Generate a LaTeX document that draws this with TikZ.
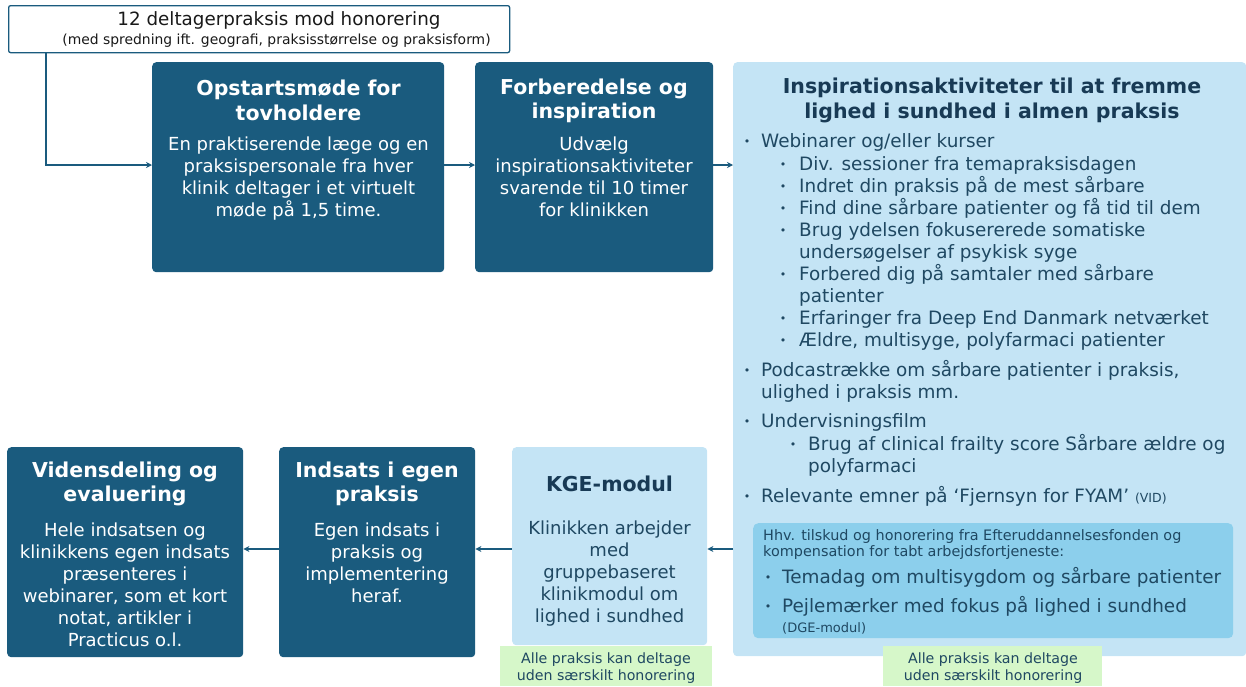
\documentclass[tikz,border=0pt]{standalone}
\usepackage{fontspec}
\setmainfont{DejaVu Sans}
\usetikzlibrary{arrows.meta}
\definecolor{dkblue}{HTML}{1A5B7E}
\definecolor{ltblue}{HTML}{C4E4F5}
\definecolor{midblue}{HTML}{8CCFEC}
\definecolor{ltgreen}{HTML}{D6F7C9}
\definecolor{navy}{HTML}{183A55}
\definecolor{txt}{HTML}{1F4862}
\begin{document}
\begin{tikzpicture}[x=1pt,y=-1pt,
  dk/.style={fill=dkblue, rounded corners=4pt, draw=none, inner sep=0pt, anchor=north west},
  lt/.style={fill=ltblue, rounded corners=4pt, draw=none, inner sep=0pt, anchor=north west},
  mid/.style={fill=midblue, rounded corners=5pt, draw=none, inner sep=0pt, anchor=north west},
  grn/.style={fill=ltgreen, draw=none, inner sep=0pt, anchor=north west},
  ttl/.style={font=\bfseries\fontsize{20.5}{24.5}\selectfont, align=center, inner sep=0pt},
  bd/.style={font=\fontsize{18}{22}\selectfont, align=center, inner sep=0pt},
  li/.style={anchor=west, inner sep=0pt, text height=13.5pt, text depth=4.5pt, font=\fontsize{18.4}{22}\selectfont, text=txt},
  sm/.style={anchor=west, inner sep=0pt, text height=10.5pt, text depth=3.2pt, font=\fontsize{14.4}{16}\selectfont, text=txt},
  bul/.style={inner sep=0pt, font=\fontsize{11}{11}\selectfont, text=txt},
  note/.style={font=\fontsize{14.2}{17}\selectfont, align=center, inner sep=0pt, text=txt},
  arr/.style={draw=dkblue, line width=1.3pt, -{Stealth[length=6pt,width=6pt]}}
]
\useasboundingbox (0,0) rectangle (1246,686);

% top box
\node[draw=dkblue, line width=1.3pt, fill=white, rounded corners=2pt, minimum width=501pt, minimum height=47pt, anchor=north west, inner sep=0pt] (top) at (8,5) {};
\node[inner sep=0pt, font=\fontsize{18.3}{22}\selectfont, text=black!90] (toptxt) at (279,20.5) {12 deltagerpraksis mod honorering};
\node[inner sep=0pt, font=\fontsize{13.9}{16}\selectfont, text=black!90] (topsub) at (276.5,41) {(med spredning ift. geografi, praksisstørrelse og praksisform)};

% upper row
\node[dk, minimum width=292pt, minimum height=210pt] (b1) at (152,62) {};
\node[ttl, text=white] (b1t) at (298.5,100.5) {Opstartsmøde for\\tovholdere};
\node[bd, text=white] (b1b) at (298.5,178.5) {En praktiserende læge og en\\praksispersonale fra hver\\klinik deltager i et virtuelt\\møde på 1,5 time.};

\node[dk, minimum width=238pt, minimum height=210pt] (b2) at (475,62) {};
\node[ttl, text=white] (b2t) at (594,101) {Forberedelse og\\inspiration};
\node[bd, text=white, font=\fontsize{18}{21.7}\selectfont] (b2b) at (594,176.75) {Udvælg\\inspirationsaktiviteter\\svarende til 10 timer\\for klinikken};

% big box
\node[lt, minimum width=513pt, minimum height=594pt] (big) at (733,62) {};
\node[ttl, text=navy] (bigt) at (992,100.5) {Inspirationsaktiviteter til at fremme\\lighed i sundhed i almen praksis};

\node[bul] (u1) at (747,143) {•};
\node[li] (l1) at (761,143) {Webinarer og/eller kurser};
\node[bul] (u2) at (783,166) {•};
\node[li] (l2) at (799,166) {Div. sessioner fra temapraksisdagen};
\node[bul] (u3) at (783,188) {•};
\node[li] (l3) at (799,188) {Indret din praksis på de mest sårbare};
\node[bul] (u4) at (783,210) {•};
\node[li] (l4) at (799,210) {Find dine sårbare patienter og få tid til dem};
\node[bul] (u5) at (783,232) {•};
\node[li] (l5) at (799,232) {Brug ydelsen fokusererede somatiske};
\node[li] (l5b) at (799,253.5) {undersøgelser af psykisk syge};
\node[bul] (u6) at (783,276) {•};
\node[li] (l6) at (799,276) {Forbered dig på samtaler med sårbare};
\node[li] (l6b) at (799,297.5) {patienter};
\node[bul] (u7) at (783,320) {•};
\node[li] (l7) at (799,320) {Erfaringer fra Deep End Danmark netværket};
\node[bul] (u8) at (783,342) {•};
\node[li] (l8) at (799,342) {Ældre, multisyge, polyfarmaci patienter};

\node[bul] (u9) at (747,372) {•};
\node[li] (l9) at (761,372) {Podcastrække om sårbare patienter i praksis,};
\node[li] (l9b) at (761,393.5) {ulighed i praksis mm.};
\node[bul] (u10) at (747,423) {•};
\node[li] (l10) at (761,423) {Undervisningsfilm};
\node[bul] (u11) at (793,446) {•};
\node[li] (l11) at (808,446) {Brug af clinical frailty score Sårbare ældre og};
\node[li] (l11b) at (808,467.5) {polyfarmaci};
\node[bul] (u12) at (747,498) {•};
\node[li] (l12) at (761,498) {Relevante emner på ‘Fjernsyn for FYAM’ {\fontsize{12.5}{12}\selectfont(VID)}};

% inner box
\node[mid, minimum width=480pt, minimum height=115pt] (inner) at (753,523) {};
\node[sm] (n1) at (763,537) {Hhv. tilskud og honorering fra Efteruddannelsesfonden og};
\node[sm] (n2) at (763,553) {kompensation for tabt arbejdsfortjeneste:};
\node[bul] (u13) at (768,579) {•};
\node[li] (l13) at (782,579) {Temadag om multisygdom og sårbare patienter};
\node[bul] (u14) at (768,608) {•};
\node[li] (l14) at (782,608) {Pejlemærker med fokus på lighed i sundhed};
\node[anchor=west, inner sep=0pt, font=\fontsize{13}{14}\selectfont, text=txt] (l14b) at (782,628) {(DGE-modul)};

\node[grn, minimum width=219pt, minimum height=40pt] (g2) at (883,646) {};
\node[note] (g2t) at (993,668.5) {Alle praksis kan deltage\\uden særskilt honorering};

% lower row
\node[lt, minimum width=195pt, minimum height=198pt] (kge) at (512,447) {};
\node[ttl, text=navy] (kget) at (609.5,484) {KGE-modul};
\node[bd, text=txt] (kgeb) at (609.5,574) {Klinikken arbejder\\med\\gruppebaseret\\klinikmodul om\\lighed i sundhed};
\node[grn, minimum width=212pt, minimum height=40pt] (g1) at (500,646) {};
\node[note] (g1t) at (606,668.5) {Alle praksis kan deltage\\uden særskilt honorering};

\node[dk, minimum width=196pt, minimum height=210pt] (ind) at (279,447) {};
\node[ttl, text=white] (indt) at (377,484) {Indsats i egen\\praksis};
\node[bd, text=white] (indb) at (377,563) {Egen indsats i\\praksis og\\implementering\\heraf.};

\node[dk, minimum width=236pt, minimum height=210pt] (vid) at (7,447) {};
\node[ttl, text=white] (vidt) at (125,484) {Vidensdeling og\\evaluering};
\node[bd, text=white] (vidb) at (125,585) {Hele indsatsen og\\klinikkens egen indsats\\præsenteres i\\webinarer, som et kort\\notat, artikler i\\Practicus o.l.};

% connectors
\draw[arr] (top.south -| 46,0) |- (b1.west |- 0,165);
\draw[arr] (b1.east |- 0,165) -- (b2.west |- 0,165);
\draw[arr] (b2.east |- 0,165) -- (big.west |- 0,165);
\draw[arr] (big.west |- 0,549) -- (kge.east |- 0,549);
\draw[arr] (kge.west |- 0,549) -- (ind.east |- 0,549);
\draw[arr] (ind.west |- 0,549) -- (vid.east |- 0,549);
\end{tikzpicture}
\end{document}
